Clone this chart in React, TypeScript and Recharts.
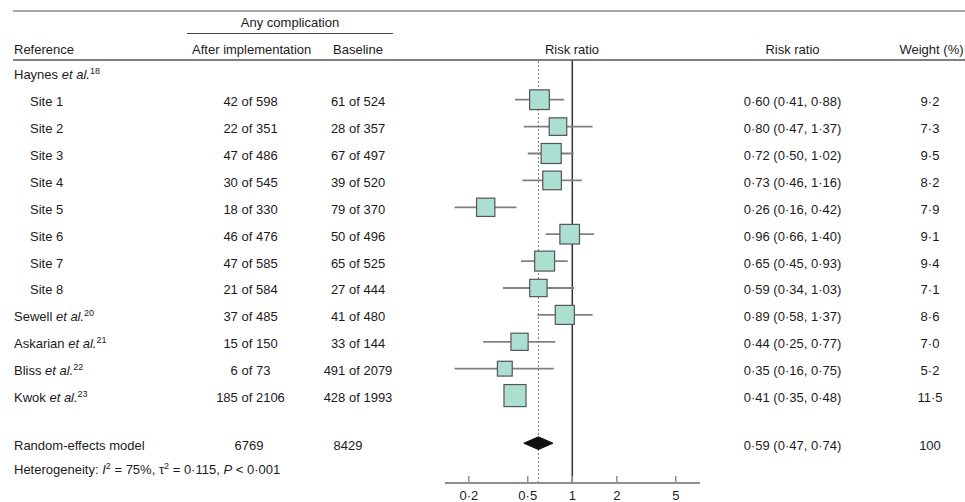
import { ScatterChart, Scatter, XAxis, YAxis, ErrorBar, ReferenceLine } from 'recharts';

// study rows (Haynes sites first, then single-site studies)
const studyLabels = ['Site 1', 'Site 2', 'Site 3', 'Site 4', 'Site 5', 'Site 6', 'Site 7', 'Site 8', 'Sewell', 'Askarian', 'Bliss', 'Kwok'];
const studyRefs = [null, null, null, null, null, null, null, null, 20, 21, 22, 23];
const groupName = 'Haynes';
const groupRef = 18;

const afterEvents = [42, 22, 47, 30, 18, 46, 47, 21, 37, 15, 6, 185];
const afterTotals = [598, 351, 486, 545, 330, 476, 585, 584, 485, 150, 73, 2106];
const baselineEvents = [61, 28, 67, 39, 79, 50, 65, 27, 41, 33, 491, 428];
const baselineTotals = [524, 357, 497, 520, 370, 496, 525, 444, 480, 144, 2079, 1993];

const riskRatio = [0.6, 0.8, 0.72, 0.73, 0.26, 0.96, 0.65, 0.59, 0.89, 0.44, 0.35, 0.41];
const ciLower = [0.41, 0.47, 0.5, 0.46, 0.16, 0.66, 0.45, 0.34, 0.58, 0.25, 0.16, 0.35];
const ciUpper = [0.88, 1.37, 1.02, 1.16, 0.42, 1.4, 0.93, 1.03, 1.37, 0.77, 0.75, 0.48];
const weights = [9.2, 7.3, 9.5, 8.2, 7.9, 9.1, 9.4, 7.1, 8.6, 7.0, 5.2, 11.5];

// random-effects summary
const pooledEstimate = [0.47, 0.59, 0.74]; // lower, estimate, upper
const pooledTotals = [6769, 8429];
const pooledWeight = 100;
const heterogeneity = { i2: 75, tau2: 0.115, p: '0·001' };

const axisTicks = [0.2, 0.5, 1, 2, 5];

// layout
const POOLED_ROW = 13.77;
const HETERO_ROW = 14.69;
const FONT = '"Liberation Sans", Arial, Helvetica, sans-serif';
const INK = '#1c1a1b';
const FS = 13;

const dot = (v: number, d: number) => v.toFixed(d).replace('.', '·');

const studyData = riskRatio.map((rr, i) => ({
  rr,
  row: i + 1,
  err: [rr - ciLower[i], ciUpper[i] - rr],
  w: weights[i],
}));

const pooledData = pooledEstimate.map((rr) => ({ rr, row: POOLED_ROW }));

const rowTicks = [0, ...studyData.map((d) => d.row), POOLED_ROW, HETERO_ROW];

function RowTick(props: any) {
  const { y, payload } = props;
  const v = payload.value;
  const base = y + 6.5;
  const common = { fontFamily: FONT, fontSize: FS, fill: INK };

  if (v === 0) {
    return (
      <text x={14} y={base} {...common}>
        {groupName} <tspan fontStyle="italic">et al.</tspan>
        <tspan dy={-5} fontSize={9}>{groupRef}</tspan>
      </text>
    );
  }
  if (v === HETERO_ROW) {
    return (
      <text x={14} y={base} {...common}>
        Heterogeneity: <tspan fontStyle="italic">I</tspan>
        <tspan dy={-5} fontSize={9}>2</tspan>
        <tspan dy={5}> = {heterogeneity.i2}%, τ</tspan>
        <tspan dy={-5} fontSize={9}>2</tspan>
        <tspan dy={5}> = {dot(heterogeneity.tau2, 3)}, </tspan>
        <tspan fontStyle="italic">P</tspan> &lt; {heterogeneity.p}
      </text>
    );
  }
  if (v === POOLED_ROW) {
    return (
      <g>
        <text x={14} y={base} {...common}>Random-effects model</text>
        <text x={249} y={base} textAnchor="middle" {...common}>{pooledTotals[0]}</text>
        <text x={348} y={base} textAnchor="middle" {...common}>{pooledTotals[1]}</text>
        <text x={792.5} y={base} textAnchor="middle" {...common}>
          {dot(pooledEstimate[1], 2)} ({dot(pooledEstimate[0], 2)}, {dot(pooledEstimate[2], 2)})
        </text>
        <text x={930} y={base} textAnchor="middle" {...common}>{pooledWeight}</text>
      </g>
    );
  }
  const i = v - 1;
  const ref = studyRefs[i];
  return (
    <g>
      {ref == null ? (
        <text x={30} y={base} {...common}>{studyLabels[i]}</text>
      ) : (
        <text x={14} y={base} {...common}>
          {studyLabels[i]} <tspan fontStyle="italic">et al.</tspan>
          <tspan dy={-5} fontSize={9}>{ref}</tspan>
        </text>
      )}
      <text x={250.5} y={base} textAnchor="middle" {...common}>
        {afterEvents[i]} of {afterTotals[i]}
      </text>
      <text x={358} y={base} textAnchor="middle" {...common}>
        {baselineEvents[i]} of {baselineTotals[i]}
      </text>
      <text x={792.5} y={base} textAnchor="middle" {...common}>
        {dot(riskRatio[i], 2)} ({dot(ciLower[i], 2)}, {dot(ciUpper[i], 2)})
      </text>
      <text x={930} y={base} textAnchor="middle" {...common}>{dot(weights[i], 1)}</text>
    </g>
  );
}

function AxisTick(props: any) {
  const { x, y, payload } = props;
  return (
    <g>
      <line x1={x} x2={x} y1={y - 7} y2={y} stroke="#8f8f8f" strokeWidth={1.5} />
      <text x={x} y={y + 17} textAnchor="middle" fontFamily={FONT} fontSize={FS} fill={INK}>
        {String(payload.value).replace('.', '·')}
      </text>
    </g>
  );
}

function StudyBox(props: any) {
  const { cx, cy, payload } = props;
  const s = 6.5 * Math.sqrt(payload.w);
  return (
    <rect x={cx - s / 2} y={cy - s / 2} width={s} height={s} fill="#aadfd2" stroke="#555" strokeWidth={1.2} />
  );
}

function Diamond(props: any) {
  const pts = props.points;
  if (!pts || pts.length < 3) return null;
  const [l, m, r] = pts;
  const h = 6.4;
  return (
    <polygon
      points={`${l.x},${l.y} ${m.x},${m.y - h} ${r.x},${r.y} ${m.x},${m.y + h}`}
      fill="#111"
      stroke="#111"
    />
  );
}

function Headers() {
  const t = { fontFamily: FONT, fontSize: FS, fill: INK };
  return (
    <svg width={965} height={502} style={{ position: 'absolute', left: 0, top: 0, pointerEvents: 'none' }}>
      <line x1={13} x2={965} y1={11} y2={11} stroke="#8a8a8a" strokeWidth={1.5} />
      <text x={290} y={26.7} textAnchor="middle" {...t}>Any complication</text>
      <line x1={187} x2={393} y1={33.5} y2={33.5} stroke="#444" strokeWidth={1} />
      <text x={14} y={54.3} {...t}>Reference</text>
      <text x={251.7} y={54.3} textAnchor="middle" {...t}>After implementation</text>
      <text x={358} y={54.3} textAnchor="middle" {...t}>Baseline</text>
      <text x={572} y={54.3} textAnchor="middle" {...t}>Risk ratio</text>
      <text x={792.5} y={54.3} textAnchor="middle" {...t}>Risk ratio</text>
      <text x={931.5} y={54.3} textAnchor="middle" {...t}>Weight (%)</text>
      <line x1={13} x2={965} y1={60} y2={60} stroke="#555" strokeWidth={1.5} />
    </svg>
  );
}

export default function App() {
  return (
    <div style={{ position: 'absolute', left: 0, top: 0, width: 965, height: 502, background: '#fff' }}>
      <ScatterChart width={965} height={502} margin={{ top: 60, right: 265, bottom: 0, left: 0 }}>
        <XAxis
          type="number"
          dataKey="rr"
          scale="log"
          domain={[0.138, 7.29]}
          allowDataOverflow
          ticks={axisTicks}
          interval={0}
          height={19}
          tickSize={0}
          tickMargin={0}
          tickLine={false}
          axisLine={{ stroke: '#8f8f8f', strokeWidth: 2 }}
          tick={<AxisTick />}
        />
        <YAxis
          type="number"
          dataKey="row"
          domain={[-0.476, 15.25]}
          reversed
          allowDataOverflow
          width={445}
          ticks={rowTicks}
          interval={0}
          tickSize={0}
          tickMargin={0}
          axisLine={false}
          tickLine={false}
          tick={<RowTick />}
        />
        <ReferenceLine x={pooledEstimate[1]} stroke="#777" strokeDasharray="2 2" strokeWidth={1} />
        <ReferenceLine x={1} stroke="#333" strokeWidth={1.5} />
        <Scatter data={studyData} dataKey="rr" shape={<StudyBox />} isAnimationActive={false}>
          <ErrorBar dataKey="err" direction="x" width={0} stroke="#808080" strokeWidth={1.8} />
        </Scatter>
        <Scatter
          data={pooledData}
          dataKey="rr"
          shape={() => <g />}
          line={Diamond}
          lineType="joint"
          isAnimationActive={false}
        />
      </ScatterChart>
      <Headers />
    </div>
  );
}
